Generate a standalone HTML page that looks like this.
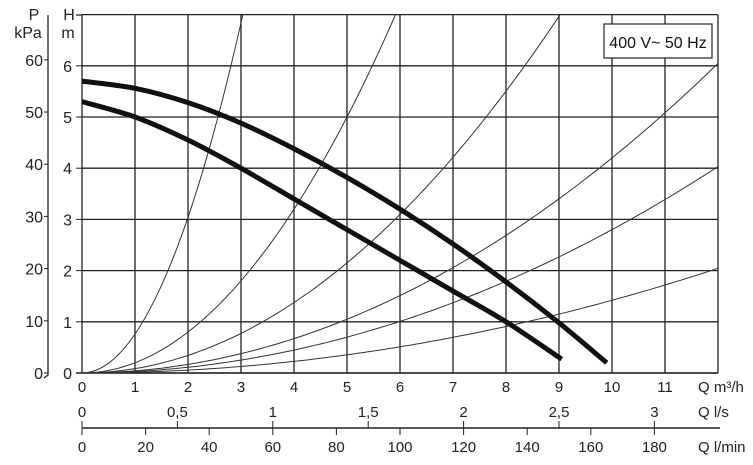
<!DOCTYPE html>
<html><head><meta charset="utf-8"><style>
html,body{margin:0;padding:0;background:#fff;}
svg{display:block;font-family:"Liberation Sans",Arial,sans-serif;}
</style></head><body>
<svg id="s" width="753" height="465" viewBox="0 0 753 465" xmlns="http://www.w3.org/2000/svg"></svg>
<script>
var s=document.getElementById('s'),h='';
function X(q){return 82+q*53.0;}
function Y(v){return 373-v*51.2;}
for(var i=0;i<=12;i++){var x=82+i*53.0;if(x>719)x=718;h+='<line x1="'+x+'" y1="15" x2="'+x+'" y2="373" stroke="#222" stroke-width="1.3"/>';}
for(var j=0;j<=7;j++){var y=Y(j);h+='<line x1="82" y1="'+y+'" x2="718" y2="'+y+'" stroke="#222" stroke-width="1.3"/>';}
h+='<line x1="76" y1="373" x2="718" y2="373" stroke="#222" stroke-width="1.6"/>';
h+='<line x1="76" y1="15" x2="82" y2="15" stroke="#222" stroke-width="1.3"/>';
for(var j=0;j<=6;j++){h+='<line x1="76" y1="'+Y(j)+'" x2="82" y2="'+Y(j)+'" stroke="#222"/><text x="72" y="'+(Y(j)+6)+'" font-size="16" text-anchor="end" fill="#222">'+j+'</text>';}
h+='<polyline points="48,15 48,375 44,378" fill="none" stroke="#222" stroke-width="1.3"/>';
for(var k=0;k<=6;k++){var y=373-k*52.2;h+='<line x1="44" y1="'+y+'" x2="48" y2="'+y+'" stroke="#222"/><text x="43" y="'+(y+6)+'" font-size="16" text-anchor="end" fill="#222">'+(k*10)+'</text>';}
h+='<text x="34" y="20" font-size="16" fill="#222" text-anchor="middle">P</text><text x="28" y="38" font-size="16" fill="#222" text-anchor="middle">kPa</text>';
h+='<text x="69" y="20" font-size="16" fill="#222" text-anchor="middle">H</text><text x="68" y="38" font-size="16" fill="#222" text-anchor="middle">m</text>';
for(var i=0;i<=11;i++)h+='<text x="'+X(i)+'" y="392" font-size="15" text-anchor="middle" fill="#222">'+i+'</text>';
h+='<text x="698" y="392" font-size="15" fill="#222">Q m³/h</text>';
var ls=['0','0,5','1','1,5','2','2,5','3'];
for(var i=0;i<7;i++){var x=X(i*1.8);h+='<text x="'+x+'" y="417" font-size="15" text-anchor="middle" fill="#222">'+ls[i]+'</text><line x1="'+x+'" y1="421" x2="'+x+'" y2="428" stroke="#222"/>';}
h+='<text x="698" y="417" font-size="15" fill="#222">Q l/s</text>';
h+='<line x1="82" y1="428" x2="720" y2="428" stroke="#222" stroke-width="1.5"/>';
for(var i=0;i<=9;i++){var x=X(i*1.2);h+='<line x1="'+x+'" y1="428" x2="'+x+'" y2="435" stroke="#222"/><text x="'+x+'" y="452" font-size="15" text-anchor="middle" fill="#222">'+(i*20)+'</text>';}
h+='<text x="698" y="452" font-size="15" fill="#222">Q l/min</text>';
var ks=[0.76,0.2,0.086,0.042,0.028,0.0142];
ks.forEach(function(k){var p=[];for(var q=0;q<=12.01;q+=0.1){var v=k*q*q;if(v>7){q=Math.sqrt(7/k);v=7;p.push(X(q).toFixed(1)+','+Y(v).toFixed(1));break;}p.push(X(q).toFixed(1)+','+Y(v).toFixed(1));}h+='<polyline points="'+p.join(' ')+'" fill="none" stroke="#333" stroke-width="1"/>';});
function spline(pts){var d='M'+X(pts[0][0])+','+Y(pts[0][1]);for(var i=0;i<pts.length-1;i++){var p0=pts[Math.max(i-1,0)],p1=pts[i],p2=pts[i+1],p3=pts[Math.min(i+2,pts.length-1)];
var a=[X(p1[0])+(X(p2[0])-X(p0[0]))/6,Y(p1[1])+(Y(p2[1])-Y(p0[1]))/6],b=[X(p2[0])-(X(p3[0])-X(p1[0]))/6,Y(p2[1])-(Y(p3[1])-Y(p1[1]))/6];
d+=' C'+a[0]+','+a[1]+' '+b[0]+','+b[1]+' '+X(p2[0])+','+Y(p2[1]);}return d;}
var up=[[0,5.7],[1,5.56],[2,5.28],[3,4.88],[4,4.38],[5,3.82],[6,3.2],[7,2.52],[8,1.78],[9,0.98],[9.9,0.2]];
var lo=[[0,5.3],[1,5.0],[2,4.55],[3,4.0],[4,3.4],[5,2.8],[6,2.2],[7,1.6],[8,1.0],[9.05,0.27]];
h+='<path d="'+spline(up)+'" fill="none" stroke="#111" stroke-width="5"/>';
h+='<path d="'+spline(lo)+'" fill="none" stroke="#111" stroke-width="5"/>';
h+='<rect x="604" y="24" width="108" height="34" fill="#fff" stroke="#222" stroke-width="1.2"/><text x="658" y="48" font-size="16" text-anchor="middle" fill="#111">400 V~ 50 Hz</text>';
s.innerHTML=h;
</script>
</body></html>
